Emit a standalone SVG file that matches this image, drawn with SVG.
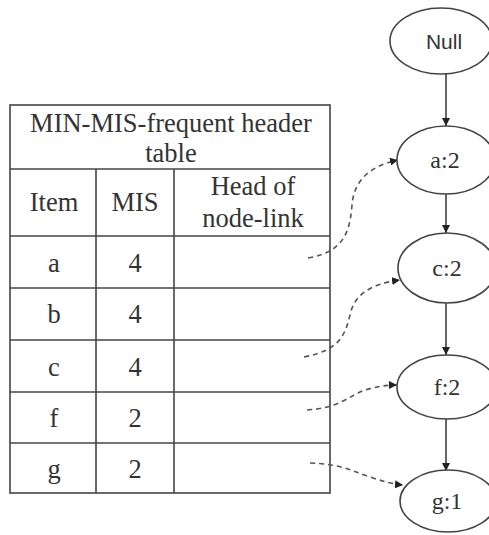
<svg xmlns="http://www.w3.org/2000/svg" width="489" height="535" viewBox="0 0 489 535">
<style>
.t{fill:#333;text-anchor:middle}
.tb{font-size:26.5px}
.nl{font-size:24px}
.s{font-family:'Liberation Sans',Arial,sans-serif;fill:#333;text-anchor:middle;font-size:21px}
.ln{stroke:#444;stroke-width:1.6;fill:none}
.el{stroke:#444;stroke-width:1.6;fill:#fff}
.ar{stroke:#333;stroke-width:1.5;fill:none;marker-end:url(#ah)}
.da{stroke:#555;stroke-width:1.6;fill:none;stroke-dasharray:5 4;marker-end:url(#ah)}
</style>
<defs>
<marker id="ah" viewBox="0 0 10 10" refX="10" refY="5" markerWidth="8" markerHeight="8" markerUnits="userSpaceOnUse" orient="auto">
<path d="M0,0 L10,5 L0,10 z" fill="#222"/>
</marker>
</defs>
<rect width="489" height="535" fill="#fff"/>
<g id="table" font-family="'Liberation Serif', 'Times New Roman', Times, serif">
<rect class="ln" x="10" y="105" width="320" height="388"/>
<line class="ln" x1="10" y1="169" x2="330" y2="169"/>
<line class="ln" x1="10" y1="236" x2="330" y2="236"/>
<line class="ln" x1="10" y1="288" x2="330" y2="288"/>
<line class="ln" x1="10" y1="340" x2="330" y2="340"/>
<line class="ln" x1="10" y1="392" x2="330" y2="392"/>
<line class="ln" x1="10" y1="443" x2="330" y2="443"/>
<line class="ln" x1="96" y1="169" x2="96" y2="493"/>
<line class="ln" x1="174" y1="169" x2="174" y2="493"/>
<text class="t tb" x="171" y="132">MIN-MIS-frequent header</text>
<text class="t tb" x="171" y="162">table</text>
<text class="t tb" x="54" y="211">Item</text>
<text class="t tb" x="135" y="211">MIS</text>
<text class="t tb" x="253" y="195">Head of</text>
<text class="t tb" x="253" y="227">node-link</text>
<text class="t tb" x="54" y="272">a</text>
<text class="t tb" x="135" y="272">4</text>
<text class="t tb" x="54" y="323">b</text>
<text class="t tb" x="135" y="323">4</text>
<text class="t tb" x="54" y="376">c</text>
<text class="t tb" x="135" y="376">4</text>
<text class="t tb" x="54" y="427">f</text>
<text class="t tb" x="135" y="427">2</text>
<text class="t tb" x="54" y="478">g</text>
<text class="t tb" x="135" y="478">2</text>
</g>
<g id="connectors">
<line class="ar" x1="446" y1="74" x2="446" y2="126"/>
<line class="ar" x1="446" y1="193" x2="446" y2="233"/>
<line class="ar" x1="446" y1="303" x2="446" y2="355"/>
<line class="ar" x1="446" y1="419" x2="446" y2="471"/>
<path class="da" d="M308,258 C345,252 350,230 352,205 C354,180 370,166 398,160"/>
<path class="da" d="M304,357 C340,350 345,335 350,315 C354,295 370,284 400,280"/>
<path class="da" d="M307,410 C340,408 350,395 365,390 C375,387 385,385 397,385"/>
<path class="da" d="M310,463 C340,464 350,470 370,477 C382,481 392,484 403,485"/>
</g>
<g id="n-null"><ellipse class="el" cx="441" cy="41" rx="51" ry="33"/><text class="s" x="444" y="49">Null</text></g>
<g id="nodes-serif" font-family="'Liberation Serif', 'Times New Roman', Times, serif">
<g id="n-a"><ellipse class="el" cx="446" cy="160" rx="49" ry="34"/><text class="t nl" x="445" y="168">a:2</text></g>
<g id="n-c"><ellipse class="el" cx="447" cy="268" rx="49" ry="35"/><text class="t nl" x="447" y="276">c:2</text></g>
<g id="n-f"><ellipse class="el" cx="447" cy="387" rx="50" ry="32"/><text class="t nl" x="447" y="395">f:2</text></g>
<g id="n-g"><ellipse class="el" cx="448" cy="501" rx="48" ry="31"/><text class="t nl" x="447" y="509">g:1</text></g>
</g>
</svg>
